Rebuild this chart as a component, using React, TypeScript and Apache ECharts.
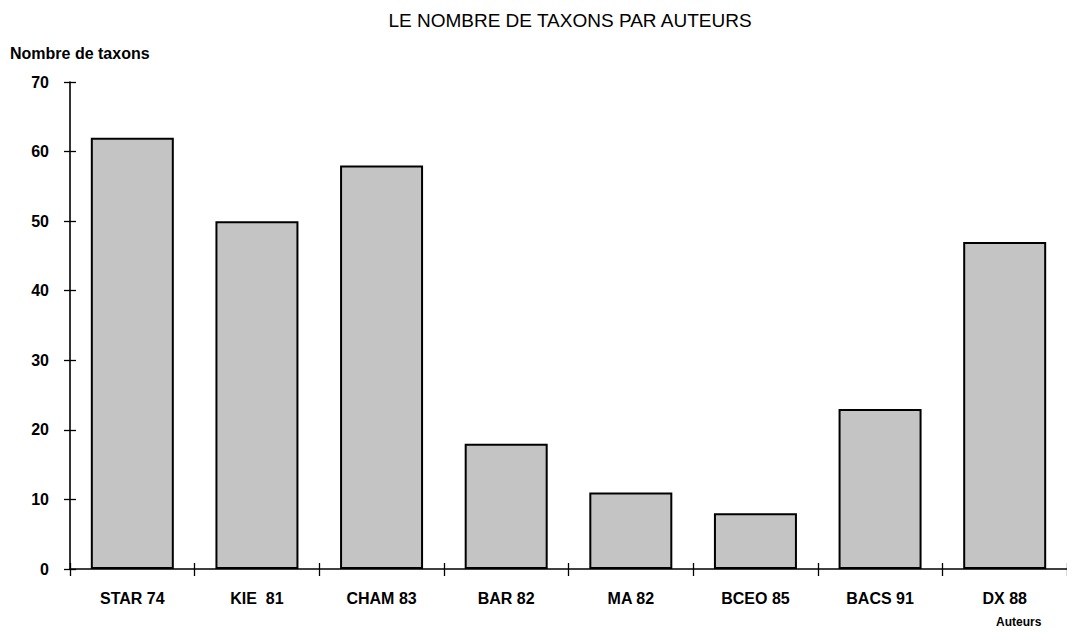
import React, { useEffect, useRef } from "react";
import * as echarts from "echarts";

const categories = ["STAR 74", "KIE  81", "CHAM 83", "BAR 82", "MA 82", "BCEO 85", "BACS 91", "DX 88"];
const taxonCounts = [62, 50, 58, 18, 11, 8, 23, 47];
const titleText = "LE NOMBRE DE TAXONS PAR AUTEURS";
const yAxisTitle = "Nombre de taxons";
const xAxisTitle = "Auteurs";

const FONT = "'Liberation Sans', Arial, Helvetica, sans-serif";

export default function App() {
  const ref = useRef<HTMLDivElement>(null);
  useEffect(() => {
    if (!ref.current) return;
    const chart = echarts.init(ref.current, null, { renderer: "svg" });
    const axisLine = { show: true, lineStyle: { color: "#000", width: 1.6 } };
    chart.setOption({
      animation: false,
      backgroundColor: "#fff",
      title: [
        {
          text: titleText,
          left: 570,
          top: 11,
          padding: 0,
          textAlign: "center",
          textStyle: { fontFamily: FONT, fontSize: 19, fontWeight: "normal", color: "#000" },
        },
        {
          text: yAxisTitle,
          left: 10,
          top: 45,
          padding: 0,
          textStyle: { fontFamily: FONT, fontSize: 16, fontWeight: "bold", color: "#000" },
        },
        {
          text: xAxisTitle,
          left: 996,
          top: 616,
          padding: 0,
          textStyle: { fontFamily: FONT, fontSize: 12, fontWeight: "bold", color: "#000" },
        },
      ],
      grid: { left: 70, top: 82, right: -3, bottom: 62, containLabel: false },
      xAxis: [
        {
          type: "category",
          data: categories,
          boundaryGap: true,
          axisLine,
          axisTick: { show: true, alignWithLabel: false, length: 7, lineStyle: { color: "#000", width: 1.3 } },
          axisLabel: {
            margin: 21,
            fontFamily: FONT,
            fontSize: 16,
            fontWeight: "bold",
            color: "#000",
            interval: 0,
          },
          splitLine: { show: false },
        },
        {
          type: "category",
          data: categories,
          position: "bottom",
          boundaryGap: true,
          axisLine: { show: false },
          axisTick: { show: true, inside: true, length: 6, lineStyle: { color: "#000", width: 1.3 } },
          axisLabel: { show: false },
          splitLine: { show: false },
        },
      ],
      yAxis: [
        {
          type: "value",
          min: 0,
          max: 70,
          interval: 10,
          axisLine,
          axisTick: { show: true, length: 6, lineStyle: { color: "#000", width: 1.3 } },
          axisLabel: {
            margin: 21,
            fontFamily: FONT,
            fontSize: 16,
            fontWeight: "bold",
            color: "#000",
          },
          splitLine: { show: false },
        },
        {
          type: "value",
          min: 0,
          max: 70,
          interval: 10,
          position: "left",
          axisLine: { show: false },
          axisTick: { show: true, inside: true, length: 6, lineStyle: { color: "#000", width: 1.3 } },
          axisLabel: { show: false },
          splitLine: { show: false },
        },
      ],
      series: [
        {
          type: "bar",
          data: taxonCounts,
          xAxisIndex: 0,
          yAxisIndex: 0,
          barWidth: 83,
          itemStyle: {
            color: "#c4c4c4",
            borderColor: "#000",
            borderWidth: 2,
          },
        },
      ],
    });
    return () => chart.dispose();
  }, []);
  return (
    <div
      ref={ref}
      style={{ position: "absolute", left: 0, top: 0, width: 1067, height: 631 }}
    />
  );
}
